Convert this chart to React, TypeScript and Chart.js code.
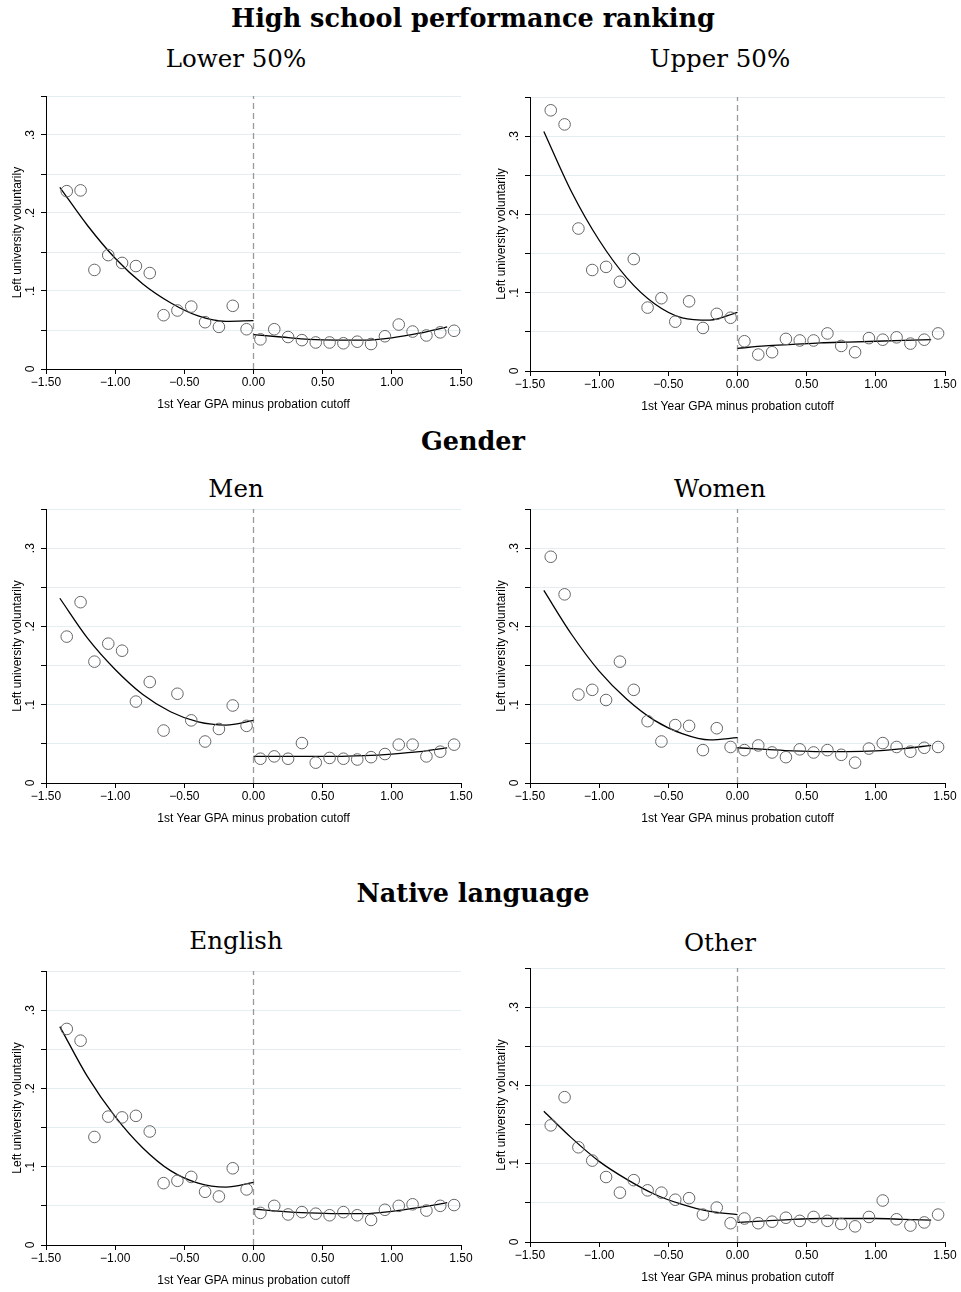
import React, { useEffect, useRef } from "react";
import { Chart, registerables } from "chart.js";

Chart.register(...registerables);

// ---------- shared axis data ----------
const BIN_X = [
  -1.35, -1.25, -1.15, -1.05, -0.95, -0.85, -0.75, -0.65, -0.55, -0.45, -0.35, -0.25, -0.15, -0.05,
  0.05, 0.15, 0.25, 0.35, 0.45, 0.55, 0.65, 0.75, 0.85, 0.95, 1.05, 1.15, 1.25, 1.35, 1.45,
];
const FIT_X_LEFT = [-1.4, -1.2, -1.0, -0.8, -0.6, -0.4, -0.2, 0];
const FIT_X_RIGHT = [0, 0.2, 0.4, 0.6, 0.8, 1.0, 1.2, 1.4];
const X_TICKS = [-1.5, -1, -0.5, 0, 0.5, 1, 1.5];
const X_TICK_LABELS = ["\u22121.50", "\u22121.00", "\u22120.50", "0.00", "0.50", "1.00", "1.50"];
const Y_GRID = [0, 0.05, 0.1, 0.15, 0.2, 0.25, 0.3, 0.35];
const Y_TICKS = [0, 0.1, 0.2, 0.3];
const Y_TICK_LABELS = ["0", ".1", ".2", ".3"];
const CUTOFF_Y = [0, 0.35];
const X_TITLE = "1st Year GPA minus probation cutoff";
const Y_TITLE = "Left university voluntarily";

// ---------- series ----------
const LOWER50_BINS = [
  0.228, 0.229, 0.127, 0.146, 0.136, 0.132, 0.123, 0.069, 0.075, 0.080, 0.060, 0.054, 0.081, 0.051,
  0.038, 0.051, 0.041, 0.037, 0.034, 0.034, 0.033, 0.035, 0.032, 0.042, 0.057, 0.048, 0.043, 0.047, 0.049,
];
const LOWER50_FIT_L = [0.233, 0.184, 0.142, 0.109, 0.085, 0.068, 0.061, 0.062];
const LOWER50_FIT_R = [0.044, 0.041, 0.038, 0.037, 0.037, 0.040, 0.046, 0.054];

const UPPER50_BINS = [
  0.333, 0.315, 0.182, 0.129, 0.133, 0.114, 0.143, 0.081, 0.093, 0.063, 0.089, 0.055, 0.073, 0.068,
  0.038, 0.021, 0.024, 0.041, 0.039, 0.039, 0.048, 0.032, 0.024, 0.042, 0.040, 0.043, 0.035, 0.040, 0.048,
];
const UPPER50_FIT_L = [0.306, 0.229, 0.167, 0.119, 0.086, 0.068, 0.065, 0.075];
const UPPER50_FIT_R = [0.029, 0.032, 0.034, 0.036, 0.037, 0.038, 0.039, 0.040];

const MEN_BINS = [
  0.187, 0.231, 0.155, 0.178, 0.169, 0.104, 0.129, 0.067, 0.114, 0.080, 0.053, 0.069, 0.099, 0.073,
  0.031, 0.034, 0.031, 0.051, 0.026, 0.032, 0.031, 0.030, 0.033, 0.037, 0.049, 0.049, 0.034, 0.040, 0.049,
];
const MEN_FIT_L = [0.236, 0.185, 0.145, 0.113, 0.091, 0.078, 0.074, 0.080];
const MEN_FIT_R = [0.034, 0.034, 0.034, 0.034, 0.035, 0.037, 0.040, 0.045];

const WOMEN_BINS = [
  0.289, 0.241, 0.113, 0.119, 0.106, 0.155, 0.119, 0.079, 0.053, 0.074, 0.073, 0.042, 0.070, 0.046,
  0.042, 0.048, 0.039, 0.033, 0.043, 0.039, 0.042, 0.036, 0.026, 0.044, 0.051, 0.046, 0.040, 0.045, 0.046,
];
const WOMEN_FIT_L = [0.246, 0.190, 0.143, 0.107, 0.080, 0.063, 0.055, 0.058];
const WOMEN_FIT_R = [0.045, 0.043, 0.041, 0.040, 0.040, 0.041, 0.044, 0.048];

const ENGLISH_BINS = [
  0.276, 0.261, 0.138, 0.164, 0.163, 0.165, 0.145, 0.079, 0.082, 0.087, 0.068, 0.062, 0.098, 0.071,
  0.041, 0.050, 0.039, 0.042, 0.040, 0.038, 0.042, 0.038, 0.032, 0.045, 0.050, 0.052, 0.044, 0.050, 0.051,
];
const ENGLISH_FIT_L = [0.279, 0.215, 0.164, 0.124, 0.095, 0.079, 0.074, 0.080];
const ENGLISH_FIT_R = [0.046, 0.043, 0.041, 0.040, 0.040, 0.043, 0.048, 0.054];

const OTHER_BINS = [
  0.149, 0.185, 0.121, 0.104, 0.083, 0.063, 0.079, 0.066, 0.063, 0.054, 0.056, 0.035, 0.044, 0.024,
  0.030, 0.024, 0.026, 0.031, 0.027, 0.032, 0.027, 0.023, 0.020, 0.032, 0.053, 0.029, 0.021, 0.025, 0.035,
];
const OTHER_FIT_L = [0.167, 0.133, 0.103, 0.080, 0.061, 0.048, 0.039, 0.035];
const OTHER_FIT_R = [0.025, 0.027, 0.029, 0.030, 0.030, 0.030, 0.029, 0.028];

// ---------- styling ----------
const SANS = "'Liberation Sans', Arial, Helvetica, sans-serif";
const SERIF = "'DejaVu Serif', serif";
const AXIS_W = 46;
const PAD_TOP = 8;
const PAD_RIGHT = 16;
const XAXIS_H = 50;
const PLOT_W = 415;
const LABEL_SIZE = 12;

const axisTextPlugin = {
  id: "axisText",
  afterDraw(chart: any) {
    const { ctx, chartArea } = chart;
    const ys = chart.scales.y;
    ctx.save();
    ctx.fillStyle = "#000";
    ctx.font = `${LABEL_SIZE}px ${SANS}`;
    ctx.textAlign = "center";
    ctx.textBaseline = "middle";
    Y_TICKS.forEach((v, i) => {
      const py = ys.getPixelForValue(v);
      ctx.save();
      ctx.translate(chartArea.left - 15, py);
      ctx.rotate(-Math.PI / 2);
      ctx.fillText(Y_TICK_LABELS[i], 0, 0);
      ctx.restore();
    });
    ctx.save();
    ctx.translate(chartArea.left - 28, (chartArea.top + chartArea.bottom) / 2);
    ctx.rotate(-Math.PI / 2);
    ctx.fillText(Y_TITLE, 0, 0);
    ctx.restore();
    ctx.fillText(X_TITLE, (chartArea.left + chartArea.right) / 2, chartArea.bottom + 36);
    ctx.restore();
  },
};

type PanelProps = {
  bins: number[];
  fitL: number[];
  fitR: number[];
  plotLeft: number;
  plotTop: number;
  plotH: number;
};

function Panel({ bins, fitL, fitR, plotLeft, plotTop, plotH }: PanelProps) {
  const ref = useRef<HTMLCanvasElement | null>(null);
  const W = PLOT_W + AXIS_W + PAD_RIGHT;
  const H = plotH + PAD_TOP + XAXIS_H;
  useEffect(() => {
    if (!ref.current) return;
    const chart = new Chart(ref.current, {
      type: "scatter",
      data: {
        datasets: [
          {
            data: BIN_X.map((x, i) => ({ x, y: bins[i] })),
            pointStyle: "circle",
            pointRadius: 5.8,
            pointBorderWidth: 1,
            pointBorderColor: "#666666",
            pointBackgroundColor: "rgba(255,255,255,0)",
            borderColor: "#666666",
            backgroundColor: "rgba(255,255,255,0)",
            order: 1,
          } as any,
          {
            data: FIT_X_LEFT.map((x, i) => ({ x, y: fitL[i] })),
            showLine: true,
            pointRadius: 0,
            borderColor: "#000",
            borderWidth: 1.3,
            cubicInterpolationMode: "monotone",
            order: 2,
          } as any,
          {
            data: FIT_X_RIGHT.map((x, i) => ({ x, y: fitR[i] })),
            showLine: true,
            pointRadius: 0,
            borderColor: "#000",
            borderWidth: 1.3,
            cubicInterpolationMode: "monotone",
            order: 2,
          } as any,
          {
            data: CUTOFF_Y.map((y) => ({ x: 0, y })),
            showLine: true,
            pointRadius: 0,
            borderColor: "#9a9a9a",
            borderWidth: 1.3,
            borderDash: [6, 4],
            order: 3,
          } as any,
        ],
      },
      options: {
        animation: false,
        responsive: false,
        events: [],
        layout: { padding: { top: PAD_TOP, right: PAD_RIGHT, left: 0, bottom: 0 } },
        plugins: { legend: { display: false }, tooltip: { enabled: false } },
        scales: {
          x: {
            type: "linear",
            min: -1.5,
            max: 1.5,
            afterBuildTicks: (s: any) => {
              s.ticks = X_TICKS.map((v) => ({ value: v }));
            },
            afterFit: (s: any) => {
              s.height = XAXIS_H;
            },
            ticks: {
              callback: (v: any) => X_TICK_LABELS[X_TICKS.indexOf(Number(v))],
              font: { family: SANS, size: LABEL_SIZE },
              color: "#000",
              padding: 1,
              maxRotation: 0,
              minRotation: 0,
              autoSkip: false,
            },
            grid: { drawOnChartArea: false, drawTicks: true, tickLength: 5, tickColor: "#000" },
            border: { color: "#000", width: 1 },
          },
          y: {
            type: "linear",
            min: 0,
            max: 0.35,
            afterBuildTicks: (s: any) => {
              s.ticks = Y_GRID.map((v) => ({ value: v }));
            },
            afterFit: (s: any) => {
              s.width = AXIS_W;
            },
            ticks: { display: false },
            grid: {
              color: (c: any) => (c.tick && c.tick.value === 0 ? "rgba(0,0,0,0)" : "#e4edf0"),
              tickColor: "#000",
              tickLength: 5,
              drawTicks: true,
              lineWidth: 1,
            },
            border: { color: "#000", width: 1 },
          },
        },
      } as any,
      plugins: [axisTextPlugin],
    });
    return () => chart.destroy();
  }, []);
  return (
    <canvas
      ref={ref}
      width={W}
      height={H}
      style={{
        position: "absolute",
        left: plotLeft - AXIS_W,
        top: plotTop - PAD_TOP,
        width: W,
        height: H,
      }}
    />
  );
}

function Heading({ text, cx, cy, size, bold }: { text: string; cx: number; cy: number; size: number; bold?: boolean }) {
  return (
    <div
      style={{
        position: "absolute",
        left: cx - 300,
        width: 600,
        top: cy - size * 0.48,
        fontFamily: SERIF,
        fontSize: size,
        lineHeight: 1,
        fontWeight: bold ? "bold" : "normal",
        textAlign: "center",
        color: "#000",
        whiteSpace: "nowrap",
      }}
    >
      {text}
    </div>
  );
}

export default function App() {
  return (
    <div
      style={{
        position: "absolute",
        left: 0,
        top: 0,
        width: 961,
        height: 1292,
        background: "#fff",
        overflow: "hidden",
      }}
    >
      <Heading text="High school performance ranking" cx={473} cy={18} size={25.5} bold />
      <Heading text="Lower 50%" cx={236} cy={59} size={24.5} />
      <Heading text="Upper 50%" cx={720} cy={59} size={24.5} />
      <Panel bins={LOWER50_BINS} fitL={LOWER50_FIT_L} fitR={LOWER50_FIT_R} plotLeft={46} plotTop={96} plotH={273} />
      <Panel bins={UPPER50_BINS} fitL={UPPER50_FIT_L} fitR={UPPER50_FIT_R} plotLeft={530} plotTop={97} plotH={274} />

      <Heading text="Gender" cx={473} cy={441} size={25.5} bold />
      <Heading text="Men" cx={236} cy={489} size={24.5} />
      <Heading text="Women" cx={720} cy={489} size={24.5} />
      <Panel bins={MEN_BINS} fitL={MEN_FIT_L} fitR={MEN_FIT_R} plotLeft={46} plotTop={509} plotH={274} />
      <Panel bins={WOMEN_BINS} fitL={WOMEN_FIT_L} fitR={WOMEN_FIT_R} plotLeft={530} plotTop={509} plotH={274} />

      <Heading text="Native language" cx={473} cy={893} size={25.5} bold />
      <Heading text="English" cx={236} cy={941} size={24.5} />
      <Heading text="Other" cx={720} cy={943} size={24.5} />
      <Panel bins={ENGLISH_BINS} fitL={ENGLISH_FIT_L} fitR={ENGLISH_FIT_R} plotLeft={46} plotTop={971} plotH={274} />
      <Panel bins={OTHER_BINS} fitL={OTHER_FIT_L} fitR={OTHER_FIT_R} plotLeft={530} plotTop={968} plotH={274} />
    </div>
  );
}
